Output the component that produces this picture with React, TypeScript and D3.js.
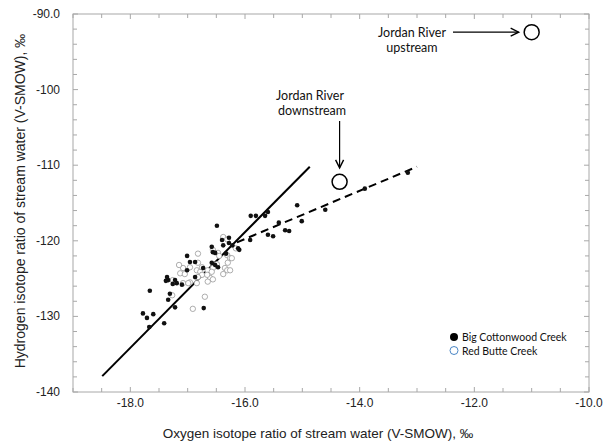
import React, { useEffect, useRef } from "react";
import * as d3 from "d3";

// Big Cottonwood Creek samples [d18O, dD]
const bigCottonwood: [number, number][] = [
  [-15.09, -115.3], [-14.6, -115.9], [-15.9, -116.7], [-15.81, -116.7], [-15.65, -116.7],
  [-15.6, -116.2], [-15.01, -117.4], [-15.41, -117.6], [-15.91, -119.9], [-15.6, -119.2],
  [-15.51, -119.4], [-15.3, -118.6], [-15.23, -118.7], [-16.49, -118.0], [-16.4, -119.9],
  [-16.28, -119.6], [-16.28, -120.3], [-16.38, -120.6], [-16.58, -120.8], [-16.56, -121.5],
  [-16.52, -121.6], [-16.1, -121.2], [-16.33, -121.7], [-17.01, -122.0], [-16.96, -122.8],
  [-16.87, -122.8], [-17.01, -123.9], [-16.58, -122.9], [-16.52, -123.2], [-16.47, -123.5],
  [-16.73, -123.6], [-17.36, -124.8], [-17.34, -125.2], [-17.38, -125.3], [-17.22, -125.2],
  [-17.26, -125.7], [-17.19, -125.6], [-17.1, -125.8], [-16.87, -124.8], [-17.66, -126.6],
  [-17.31, -127.0], [-17.34, -127.8], [-17.22, -128.8], [-16.72, -128.9], [-17.78, -129.6],
  [-17.71, -130.2], [-17.6, -129.7], [-17.67, -131.4], [-17.41, -130.9], [-13.91, -113.1],
  [-13.16, -111.0], [-16.22, -120.6], [-16.12, -121.0],
];

// Red Butte Creek samples [d18O, dD]
const redButte: [number, number][] = [
  [-16.38, -119.5], [-16.31, -119.8], [-16.82, -121.7], [-17.08, -123.6], [-17.13, -124.3],
  [-17.05, -124.4], [-16.96, -123.5], [-16.84, -123.9], [-16.78, -124.1], [-16.75, -124.5],
  [-16.82, -124.8], [-17.26, -125.2], [-16.96, -125.5], [-16.47, -121.6], [-16.45, -122.0],
  [-16.31, -121.9], [-16.26, -122.3], [-16.3, -122.9], [-16.35, -123.6], [-16.31, -123.9],
  [-16.38, -124.4], [-16.7, -127.4], [-16.91, -129.0], [-17.27, -127.2], [-16.16, -121.0],
  [-16.49, -123.1], [-16.56, -123.6], [-16.65, -123.9], [-17.08, -125.6], [-16.99, -125.6],
  [-16.84, -125.6], [-16.61, -124.9], [-16.65, -125.4], [-16.56, -125.1], [-16.66, -124.5],
  [-16.58, -124.1], [-16.82, -122.9], [-16.75, -123.5], [-16.26, -123.9], [-16.23, -122.3],
  [-16.56, -121.2], [-17.15, -123.2],
];

const solidLine: [number, number][] = [[-18.49, -137.9], [-14.87, -110.2]];
const dashedLine: [number, number][] = [[-16.14, -120.2], [-13.0, -110.2]];

const jordanUp: [number, number] = [-11.0, -92.4];
const jordanDown: [number, number] = [-14.35, -112.2];

const xTicks = [-18, -16, -14, -12, -10];
const xTickLabels = ["-18.0", "-16.0", "-14.0", "-12.0", "-10.0"];
const yTicks = [-90, -100, -110, -120, -130, -140];
const yTickLabels = ["-90.0", "-100", "-110", "-120", "-130", "-140"];

const legendNames = ["Big Cottonwood Creek", "Red Butte Creek"];

export default function App() {
  const ref = useRef<SVGSVGElement>(null);

  useEffect(() => {
    const svg = d3.select(ref.current);
    svg.selectAll("*").remove();

    const left = 73, right = 589, top = 14, bottom = 392;
    const x = d3.scaleLinear().domain([-19, -10]).range([left, right]);
    const y = d3.scaleLinear().domain([-140, -90]).range([bottom, top]);

    const defs = svg.append("defs");
    defs.append("marker")
      .attr("id", "arr")
      .attr("markerUnits", "userSpaceOnUse")
      .attr("markerWidth", 12).attr("markerHeight", 12)
      .attr("refX", 9).attr("refY", 5)
      .attr("orient", "auto")
      .append("path")
      .attr("d", "M1,1 L9,5 L1,9")
      .attr("fill", "none")
      .attr("stroke", "#000")
      .attr("stroke-width", 1.4);

    const frame = "#a8a8a8";
    svg.append("rect")
      .attr("x", left).attr("y", top)
      .attr("width", right - left).attr("height", bottom - top)
      .attr("fill", "none").attr("stroke", frame).attr("stroke-width", 1);

    // inward ticks on all four sides
    const xMinor = d3.range(-19, -9.99, 0.5);
    const yMinor = d3.range(-140, -89.99, 2);
    const tk = svg.append("g").attr("stroke", frame).attr("stroke-width", 1);
    xMinor.forEach((v) => {
      const len = xTicks.includes(v) ? 5 : 4;
      tk.append("line").attr("x1", x(v)).attr("x2", x(v)).attr("y1", bottom).attr("y2", bottom - len);
      tk.append("line").attr("x1", x(v)).attr("x2", x(v)).attr("y1", top).attr("y2", top + len);
    });
    yMinor.forEach((v) => {
      const len = yTicks.includes(v) ? 5 : 4;
      tk.append("line").attr("y1", y(v)).attr("y2", y(v)).attr("x1", left).attr("x2", left + len);
      tk.append("line").attr("y1", y(v)).attr("y2", y(v)).attr("x1", right).attr("x2", right - len);
    });

    const axisFont = "'Liberation Sans', Arial, sans-serif";
    svg.append("g").selectAll("text").data(xTicks).enter().append("text")
      .attr("x", (d) => x(d)).attr("y", 407)
      .attr("text-anchor", "middle")
      .attr("font-family", axisFont).attr("font-size", 12).attr("fill", "#222")
      .text((d, i) => xTickLabels[i]);
    svg.append("g").selectAll("text").data(yTicks).enter().append("text")
      .attr("x", 60).attr("y", (d) => y(d) + 4)
      .attr("text-anchor", "end")
      .attr("font-family", axisFont).attr("font-size", 12).attr("fill", "#222")
      .text((d, i) => yTickLabels[i]);

    svg.append("text")
      .attr("x", 318).attr("y", 438)
      .attr("text-anchor", "middle")
      .attr("font-family", axisFont).attr("font-size", 13.5).attr("fill", "#222")
      .text("Oxygen isotope ratio of stream water (V-SMOW), ‰");
    svg.append("text")
      .attr("transform", "translate(25,201) rotate(-90)")
      .attr("text-anchor", "middle")
      .attr("font-family", axisFont).attr("font-size", 14).attr("fill", "#222")
      .text("Hydrogen isotope ratio of stream water (V-SMOW), ‰");

    // regression lines
    const line = d3.line<[number, number]>().x((d) => x(d[0])).y((d) => y(d[1]));
    svg.append("path").attr("d", line(solidLine))
      .attr("stroke", "#000").attr("stroke-width", 2).attr("fill", "none");
    svg.append("path").attr("d", line(dashedLine))
      .attr("stroke", "#000").attr("stroke-width", 2).attr("fill", "none")
      .attr("stroke-dasharray", "8,5");

    // samples
    svg.append("g").selectAll("circle").data(redButte).enter().append("circle")
      .attr("cx", (d) => x(d[0])).attr("cy", (d) => y(d[1])).attr("r", 2.7)
      .attr("fill", "#fff").attr("stroke", "#999").attr("stroke-width", 0.8);
    svg.append("g").selectAll("circle").data(bigCottonwood).enter().append("circle")
      .attr("cx", (d) => x(d[0])).attr("cy", (d) => y(d[1])).attr("r", 2.3)
      .attr("fill", "#111");

    // Jordan River points and annotations
    const noteFont = "Lato, 'Open Sans', sans-serif";
    [jordanUp, jordanDown].forEach((p) => {
      svg.append("circle")
        .attr("cx", x(p[0])).attr("cy", y(p[1])).attr("r", 7.5)
        .attr("fill", "#fff").attr("stroke", "#000").attr("stroke-width", 1.5);
    });
    svg.append("line")
      .attr("x1", 453).attr("y1", y(jordanUp[1]))
      .attr("x2", x(jordanUp[0]) - 13).attr("y2", y(jordanUp[1]))
      .attr("stroke", "#000").attr("stroke-width", 1.2).attr("marker-end", "url(#arr)");
    svg.append("line")
      .attr("x1", x(jordanDown[0])).attr("y1", 121)
      .attr("x2", x(jordanDown[0])).attr("y2", y(jordanDown[1]) - 14)
      .attr("stroke", "#000").attr("stroke-width", 1.2).attr("marker-end", "url(#arr)");

    const notes = [
      { x: 412, y: 37, t: "Jordan River" },
      { x: 412, y: 52, t: "upstream" },
      { x: 310, y: 100, t: "Jordan River" },
      { x: 312, y: 115, t: "downstream" },
    ];
    svg.append("g").selectAll("text").data(notes).enter().append("text")
      .attr("x", (d) => d.x).attr("y", (d) => d.y)
      .attr("text-anchor", "middle")
      .attr("font-family", noteFont).attr("font-size", 12.5).attr("fill", "#111")
      .text((d) => d.t);

    // legend
    const lg = svg.append("g").attr("transform", "translate(454,337)");
    lg.append("circle").attr("cx", 0).attr("cy", 0).attr("r", 4)
      .attr("fill", "#000");
    lg.append("circle").attr("cx", 0).attr("cy", 13.5).attr("r", 4)
      .attr("fill", "#fff").attr("stroke", "#4a86c5").attr("stroke-width", 1);
    lg.selectAll("text").data(legendNames).enter().append("text")
      .attr("x", 8).attr("y", (d, i) => i * 13.5 + 4)
      .attr("font-family", noteFont).attr("font-size", 10.5).attr("fill", "#111")
      .text((d) => d);
  }, []);

  return (
    <svg
      ref={ref}
      width={604}
      height={443}
      style={{ position: "absolute", left: 0, top: 0, background: "#fff" }}
    />
  );
}
